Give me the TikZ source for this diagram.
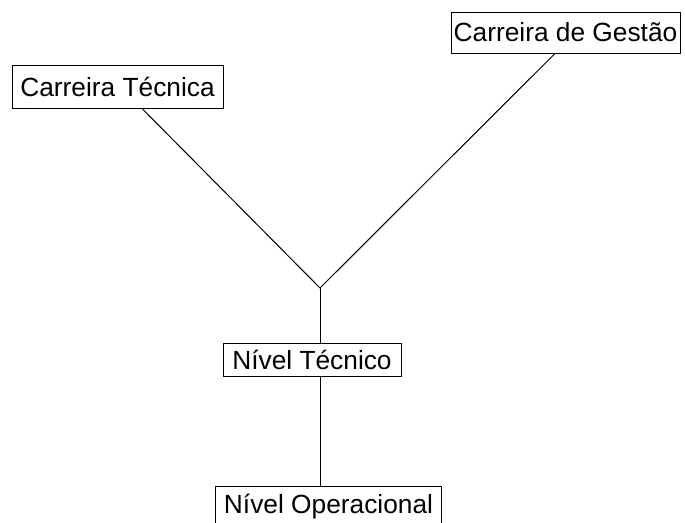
\documentclass[tikz,border=0pt]{standalone}
\usepackage{fontspec}
\setmainfont{Liberation Sans}
\begin{document}
\begin{tikzpicture}[x=1pt,y=-1pt,
  box/.style={draw,line width=1pt,inner sep=0pt,font=\fontsize{26.3}{30}\selectfont},
  link/.style={line width=1pt}]
\useasboundingbox (0,0) rectangle (685,522);
\node[box,minimum width=211pt,minimum height=43pt] (CT) at (117.5,86.5) {Carreira Técnica};
\node[box,minimum width=229pt,minimum height=41pt] (CG) at (565.5,32.5) {Carreira de Gestão};
\node[box,minimum width=178pt,minimum height=33pt] (NT) at (312,359.5) {Nível Técnico};
\node[box,minimum width=226pt,minimum height=40pt,anchor=north west] (NO) at (215,486) {Nível Operacional};
\coordinate (J) at (320,288);
\draw[link] ([xshift=24.5pt]CT.south) -- (J);
\draw[link] ([xshift=-10.5pt]CG.south) -- (J);
\draw[link] (J) -- (J |- NT.north);
\draw[link] (J |- NT.south) -- (J |- NO.north);
\end{tikzpicture}
\end{document}
